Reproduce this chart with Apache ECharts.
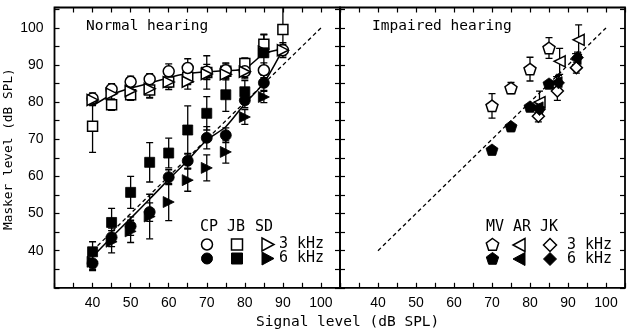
<!DOCTYPE html>
<html>
<head>
<meta charset="utf-8">
<script src="https://cdn.jsdelivr.net/npm/echarts@6/dist/echarts.min.js"></script>
<style>
html,body{margin:0;padding:0;background:#fff;}
#chart{width:629px;height:334px;}
</style>
</head>
<body>
<div id="chart"></div>
<script>
// ---- tick labels ----
const xTickLabels = [40, 50, 60, 70, 80, 90, 100];
const yTickLabels = [40, 50, 60, 70, 80, 90, 100];

// ---- Normal hearing, 3 kHz (open symbols) ----
const signal3k = [40, 45, 50, 55, 60, 65, 70, 75, 80, 85, 90];
const cp3k     = [81, 83.5, 85.5, 86.2, 88.3, 89.2, 88.2, 88.6, 88.3, 88.6, 94];
const cp3kErr  = [1.5, 1.5, 1.5, 1.5, 2, 2.5, 2, 2, 2, 2, 2];
const jb3k     = [73.5, 79.3, 82, 83.3, 85.4, 86.7, 88, 88.3, 90.4, 95.6, 99.6];
const jb3kErr  = [7, 1.5, 1.5, 2, 2, 2, 4.5, 2, 1.5, 2.5, 6];
const sd3k     = [80.6, 82.3, 83, 83.6, 85.4, 85.5, 87.6, 87.5, 88.2, 93.6, 94];
const sd3kErr  = [1.5, 1.5, 1.5, 2.5, 1.5, 2, 1.5, 1.5, 1.5, 1.5, 1.5];

// ---- Normal hearing, 6 kHz (filled symbols) ----
const signal6k = [40, 45, 50, 55, 60, 65, 70, 75, 80, 85];
const cp6k     = [36.6, 43.6, 46.6, 50.4, 59.8, 64.2, 70.4, 71.1, 80.5, 85.2];
const cp6kErr  = [2, 2.5, 2.5, 2.5, 2, 2, 3, 2, 2, 2];
const jb6k     = [39.7, 47.6, 55.7, 63.8, 66.3, 72.5, 77, 82, 82.8, 93.3];
const jb6kErr  = [2.7, 3.8, 4.3, 5.3, 4, 6.5, 4.5, 4.5, 3, 5];
const sd6k     = [37, 42.4, 45.2, 49.2, 53.1, 59, 62.3, 66.6, 76, 81.4];
const sd6kErr  = [2, 3, 3, 6, 5, 3, 3.5, 3, 2, 1.5];

// ---- Normal hearing fitted curves ----
const upperFitX = [40, 45, 50, 55, 60, 65, 70, 75, 80, 85, 90];
const upperFitY = [79, 82, 83.8, 85.1, 86.6, 87.7, 88.2, 88.5, 89, 93, 94.3];
const lowerFitX = [40.5, 45, 50, 55, 60, 65, 70, 75, 80, 85, 90];
const lowerFitY = [38.9, 43.6, 48.7, 53.9, 59.2, 64.3, 69.8, 73.4, 79.6, 85.2, 94.2];

// ---- Diagonal (masker = signal) ----
const diagX = [40, 100];
const diagY = [40, 100];

// ---- Impaired hearing ----
const mv3kX = [70, 75, 80, 85];
const mv3k  = [79, 83.8, 88.9, 94.6];
const mv3kErr = [3.3, 1.5, 3.2, 2.8];
const mv6kX = [70, 75, 80, 85];
const mv6k  = [67.2, 73.5, 78.8, 85];
const mv6kErr = [0, 0, 0, 0];
const ar3kX = [82.5, 87.8, 92.8];
const ar3k  = [80, 91, 96.8];
const ar3kErr = [3, 3.5, 4];
const ar6kX = [82, 87, 92];
const ar6k  = [78.6, 85.4, 91.6];
const ar6kErr = [1.5, 1.5, 1.5];
const jk3kX = [82.2, 87.2, 92.2];
const jk3k  = [76.2, 83, 89.3];
const jk3kErr = [1.5, 2.5, 1.5];
const jk6kX = [82.5, 87.5, 92.5];
const jk6k  = [78, 85.2, 92];
const jk6kErr = [1.5, 2, 1.5];

// ---- symbols ----
const PENT = 'path://M0,-10 L9.51,-3.09 L5.88,8.09 L-5.88,8.09 L-9.51,-3.09 Z';
const TRI_R = 'path://M0,0 L10,5 L0,10 Z';
const TRI_L = 'path://M10,0 L0,5 L10,10 Z';
const INK = '#000';

function pts(xs, ys) { return xs.map((x, i) => [x, ys[i]]); }
function errPts(xs, ys, es) { return xs.map((x, i) => [x, ys[i], es[i]]); }

function errSeries(idx, xs, ys, es) {
  return {
    type: 'custom', xAxisIndex: idx * 2, yAxisIndex: idx * 2, clip: true, z: 2,
    data: errPts(xs, ys, es),
    renderItem: function (params, api) {
      const x = api.value(0), y = api.value(1), e = api.value(2);
      if (!e) return null;
      const t = api.coord([x, y + e]);
      const b = api.coord([x, y - e]);
      const w = 3.5;
      const st = { stroke: INK, lineWidth: 1.3 };
      return { type: 'group', children: [
        { type: 'line', shape: { x1: t[0], y1: t[1], x2: b[0], y2: b[1] }, style: st },
        { type: 'line', shape: { x1: t[0] - w, y1: t[1], x2: t[0] + w, y2: t[1] }, style: st },
        { type: 'line', shape: { x1: b[0] - w, y1: b[1], x2: b[0] + w, y2: b[1] }, style: st }
      ]};
    }
  };
}
function symSeries(idx, xs, ys, symbol, filled, size) {
  return {
    type: 'scatter', xAxisIndex: idx * 2, yAxisIndex: idx * 2, z: 4,
    symbol: symbol, symbolSize: size, symbolKeepAspect: true,
    itemStyle: filled ? { color: INK, borderColor: INK, borderWidth: 0.8, opacity: 1 }
                      : { color: '#fff', borderColor: INK, borderWidth: 1.5, opacity: 1 },
    data: pts(xs, ys), silent: true
  };
}
function lineSeries(idx, xs, ys, dashed, smooth) {
  return {
    type: 'line', xAxisIndex: idx * 2, yAxisIndex: idx * 2, z: 3,
    data: pts(xs, ys), symbol: 'none', smooth: smooth || false,
    lineStyle: { color: INK, width: dashed ? 1.3 : 1.5, type: dashed ? [4, 3] : 'solid', opacity: 1 },
    silent: true
  };
}

function xAx(grid, pos, labels) {
  return {
    type: 'value', gridIndex: grid, position: pos, min: 30, max: 105, interval: 5,
    axisLine: { show: false }, splitLine: { show: false },
    axisTick: { inside: true, length: 5, lineStyle: { color: INK, width: 1.2 } },
    axisLabel: labels ? {
      show: true, margin: 8, color: INK, fontFamily: 'Liberation Sans', fontSize: 14,
      formatter: v => xTickLabels.includes(Math.round(v * 10) / 10) ? String(v) : ''
    } : { show: false }
  };
}
function yAx(grid, pos, labels) {
  return {
    type: 'value', gridIndex: grid, position: pos, min: 30, max: 105.5, interval: 5,
    axisLine: { show: false }, splitLine: { show: false },
    axisTick: { inside: true, length: 5, lineStyle: { color: INK, width: 1.2 } },
    axisLabel: labels ? {
      show: true, margin: 11, color: INK, fontFamily: 'Liberation Sans', fontSize: 14,
      formatter: v => yTickLabels.includes(Math.round(v * 10) / 10) ? String(v) : ''
    } : { show: false }
  };
}

const chart = echarts.init(document.getElementById('chart'), null, { renderer: 'canvas' });

const MONO = 'DejaVu Sans Mono';
function legendShapes(cx, cy, kind, filled) {
  const st = filled ? { fill: INK, stroke: INK, lineWidth: 1 } : { fill: '#fff', stroke: INK, lineWidth: 1.5 };
  if (kind === 'circle') return { type: 'circle', shape: { cx: cx, cy: cy, r: 5.5 }, style: st };
  if (kind === 'rect') return { type: 'rect', shape: { x: cx - 5.5, y: cy - 5.5, width: 11, height: 11 }, style: st };
  if (kind === 'triR') return { type: 'polygon', shape: { points: [[cx - 5, cy - 6.5], [cx + 7, cy], [cx - 5, cy + 6.5]] }, style: st };
  if (kind === 'triL') return { type: 'polygon', shape: { points: [[cx + 5, cy - 6.5], [cx - 7, cy], [cx + 5, cy + 6.5]] }, style: st };
  if (kind === 'diamond') return { type: 'polygon', shape: { points: [[cx, cy - 6.5], [cx + 6.5, cy], [cx, cy + 6.5], [cx - 6.5, cy]] }, style: st };
  if (kind === 'pent') {
    const p = [];
    for (let k = 0; k < 5; k++) { const a = -Math.PI / 2 + k * 2 * Math.PI / 5; p.push([cx + 6.5 * Math.cos(a), cy + 6.5 * Math.sin(a)]); }
    return { type: 'polygon', shape: { points: p }, style: st };
  }
}
function lt(x, y, s, align) {
  return { type: 'text', style: { x: x, y: y, text: s, fill: INK, font: '15px "' + MONO + '"', textAlign: align || 'left', textVerticalAlign: 'middle' } };
}

const graphics = [
  { type: 'text', left: 86, top: 19, style: { text: 'Normal hearing', fill: INK, font: '14.5px "' + MONO + '"' }, silent: true },
  { type: 'text', left: 372, top: 19, style: { text: 'Impaired hearing', fill: INK, font: '14.5px "' + MONO + '"' }, silent: true },
  { type: 'text', left: 256, top: 315, style: { text: 'Signal level (dB SPL)', fill: INK, font: '14.5px "' + MONO + '"' }, silent: true },
  { type: 'text', x: 2, y: 230, rotation: Math.PI / 2, style: { text: 'Masker level (dB SPL)', fill: INK, font: '12.8px "' + MONO + '"', textVerticalAlign: 'top' }, silent: true },
  // left legend
  { type: 'group', silent: true, children: [
    lt(209, 227, 'CP', 'center'), lt(236, 227, 'JB', 'center'), lt(264, 227, 'SD', 'center'),
    legendShapes(207, 244.5, 'circle', false), legendShapes(237, 244.5, 'rect', false), legendShapes(267, 244.5, 'triR', false),
    legendShapes(207, 258.5, 'circle', true), legendShapes(237, 258.5, 'rect', true), legendShapes(267, 258.5, 'triR', true),
    lt(279, 244.5, '3 kHz'), lt(279, 258.5, '6 kHz')
  ]},
  // right legend
  { type: 'group', silent: true, children: [
    lt(495, 227, 'MV', 'center'), lt(522, 227, 'AR', 'center'), lt(549, 227, 'JK', 'center'),
    legendShapes(492.5, 245, 'pent', false), legendShapes(520, 245, 'triL', false), legendShapes(550, 245, 'diamond', false),
    legendShapes(492.5, 259, 'pent', true), legendShapes(520, 259, 'triL', true), legendShapes(550, 259, 'diamond', true),
    lt(567, 245, '3 kHz'), lt(567, 259, '6 kHz')
  ]}
];

const series = [
  // left panel
  lineSeries(0, diagX, diagY, true),
  lineSeries(0, upperFitX, upperFitY, false, 0.25),
  lineSeries(0, lowerFitX, lowerFitY, false, 0.25),
  errSeries(0, signal3k, cp3k, cp3kErr),
  errSeries(0, signal3k, jb3k, jb3kErr),
  errSeries(0, signal3k, sd3k, sd3kErr),
  errSeries(0, signal6k, cp6k, cp6kErr),
  errSeries(0, signal6k, jb6k, jb6kErr),
  errSeries(0, signal6k, sd6k, sd6kErr),
  symSeries(0, signal3k, jb3k, 'rect', false, 10),
  symSeries(0, signal3k, cp3k, 'circle', false, 11),
  symSeries(0, signal3k, sd3k, TRI_R, false, 11),
  symSeries(0, signal6k, jb6k, 'rect', true, 10),
  symSeries(0, signal6k, cp6k, 'circle', true, 11),
  symSeries(0, signal6k, sd6k, TRI_R, true, 11),
  // right panel
  lineSeries(1, diagX, diagY, true),
  errSeries(1, mv3kX, mv3k, mv3kErr),
  errSeries(1, mv6kX, mv6k, mv6kErr),
  errSeries(1, ar3kX, ar3k, ar3kErr),
  errSeries(1, ar6kX, ar6k, ar6kErr),
  errSeries(1, jk3kX, jk3k, jk3kErr),
  errSeries(1, jk6kX, jk6k, jk6kErr),
  symSeries(1, jk3kX, jk3k, 'diamond', false, 12),
  symSeries(1, ar3kX, ar3k, TRI_L, false, 11),
  symSeries(1, mv3kX, mv3k, PENT, false, 12),
  symSeries(1, mv6kX, mv6k, PENT, true, 12),
  symSeries(1, ar6kX, ar6k, TRI_L, true, 11),
  symSeries(1, jk6kX, jk6k, 'diamond', true, 12)
];

chart.setOption({
  animation: false,
  backgroundColor: '#fff',
  grid: [
    { left: 54.5, top: 7.5, width: 285.5, height: 280.3, show: true, borderColor: INK, borderWidth: 1.8, backgroundColor: 'transparent' },
    { left: 340, top: 7.5, width: 285, height: 280.3, show: true, borderColor: INK, borderWidth: 1.8, backgroundColor: 'transparent' }
  ],
  xAxis: [ xAx(0, 'bottom', true), xAx(0, 'top', false), xAx(1, 'bottom', true), xAx(1, 'top', false) ],
  yAxis: [ yAx(0, 'left', true), yAx(0, 'right', false), yAx(1, 'left', false), yAx(1, 'right', false) ],
  series: series,
  graphic: graphics
});
</script>
</body>
</html>
